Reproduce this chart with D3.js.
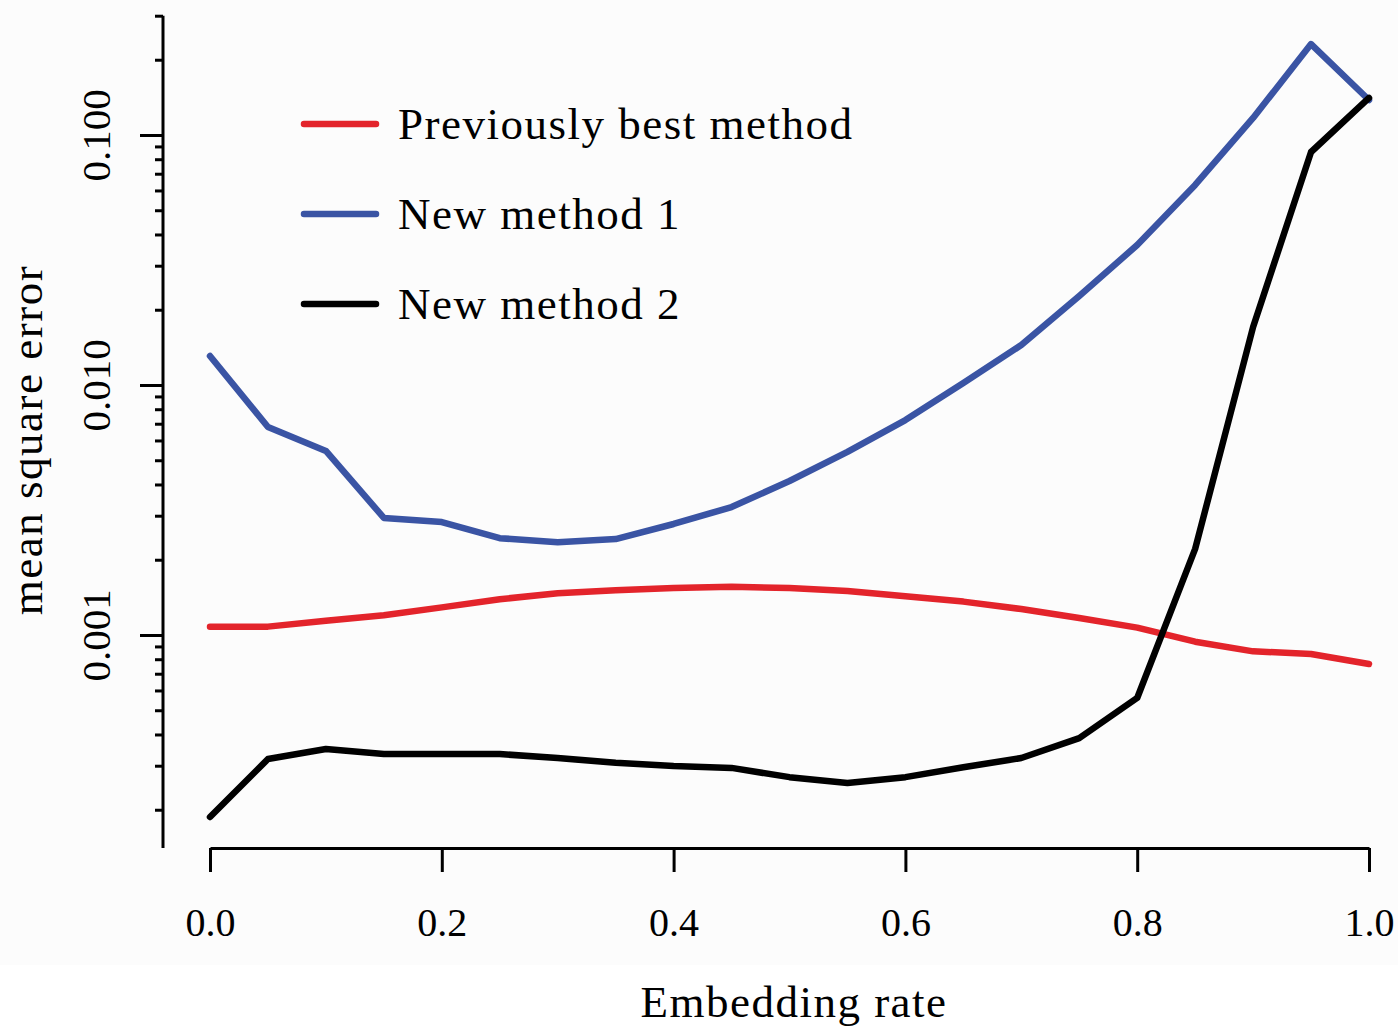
<!DOCTYPE html>
<html>
<head>
<meta charset="utf-8">
<style>
body { margin: 0; background: #fff; }
svg { display: block; font-family: 'Liberation Serif', 'DejaVu Serif', serif; }
</style>
</head>
<body>
<svg></svg>
<script src="https://d3js.org/d3.v7.min.js"></script>
<script>

// embedding rate, 0 to 1 in steps of 0.05
const rates = [0, 0.05, 0.1, 0.15, 0.2, 0.25, 0.3, 0.35, 0.4, 0.45, 0.5,
    0.55, 0.6, 0.65, 0.7, 0.75, 0.8, 0.85, 0.9, 0.95, 1.0];

const previousBest = [0.00108, 0.00108, 0.00114, 0.00120, 0.00129, 0.00139, 0.00147,
    0.00151, 0.00154, 0.00156, 0.00154, 0.00150, 0.00143, 0.00136, 0.00127,
    0.00117, 0.00107, 0.00094, 0.00086, 0.00084, 0.000766];

const newMethod1 = [0.01306, 0.00679, 0.00545, 0.00294, 0.00283, 0.00244, 0.00235,
    0.00242, 0.00278, 0.00325, 0.00413, 0.00540, 0.00724, 0.01019, 0.01445,
    0.0227, 0.0363, 0.0631, 0.117, 0.231, 0.138];

const newMethod2 = [0.000187, 0.000319, 0.000350, 0.000334, 0.000334, 0.000334, 0.000322,
    0.000308, 0.000299, 0.000294, 0.000270, 0.000256, 0.000270, 0.000296, 0.000322,
    0.000387, 0.000560, 0.00221, 0.01706, 0.0855, 0.1406];

const seriesNames = ['Previously best method', 'New method 1', 'New method 2'];
const seriesColors = ['#e3242b', '#3a54a4', '#000000'];

const xTicks = [0, 0.2, 0.4, 0.6, 0.8, 1.0];
const yMajor = [0.001, 0.01, 0.1];
const yMajorLabels = ['0.001', '0.010', '0.100'];
const yMinor = [0.0002, 0.0003, 0.0004, 0.0005, 0.0006, 0.0007, 0.0008, 0.0009,
    0.002, 0.003, 0.004, 0.005, 0.006, 0.007, 0.008, 0.009,
    0.02, 0.03, 0.04, 0.05, 0.06, 0.07, 0.08, 0.09, 0.2, 0.3];

const fullWidth = 1398;
const fullHeight = 1030;

const svg = d3.select('svg')
    .attr('width', fullWidth)
    .attr('height', fullHeight);

svg.append('rect')
    .attr('width', fullWidth)
    .attr('height', 965)
    .attr('fill', '#fcfcfc');

const x = d3.scaleLinear()
    .domain([0, 1])
    .range([210, 1369]);

const y = d3.scaleLog()
    .domain([0.0001406, 0.3467])
    .range([848, 0]);

const yAxisX = 163;
const xAxisY = 848;

// y axis
const yAxisG = svg.append('g')
    .attr('transform', `translate(${yAxisX},0)`);

yAxisG.append('line')
    .attr('y1', y(0.3))
    .attr('y2', xAxisY)
    .attr('stroke', '#000')
    .attr('stroke-width', 3);

yAxisG.append('g')
    .call(d3.axisLeft(y).tickValues(yMinor).tickSize(8).tickFormat(''))
    .call(g => g.select('.domain').remove())
    .selectAll('line').attr('stroke-width', 3);

const yMajorG = yAxisG.append('g')
    .call(d3.axisLeft(y).tickValues(yMajor).tickSize(23).tickPadding(0)
        .tickFormat((d, i) => yMajorLabels[i]))
    .call(g => g.select('.domain').remove());

yMajorG.selectAll('line').attr('stroke-width', 3);
yMajorG.selectAll('text')
    .attr('transform', 'rotate(-90)')
    .attr('x', 0)
    .attr('y', -53)
    .attr('dy', 0)
    .attr('text-anchor', 'middle')
    .attr('font-size', 41)
    .attr('font-family', "'Liberation Serif', serif")
    .attr('fill', '#000');

// x axis
const xAxisG = svg.append('g')
    .attr('transform', `translate(0,${xAxisY})`)
    .call(d3.axisBottom(x).tickValues(xTicks).tickSize(24).tickSizeOuter(0)
        .tickPadding(36).tickFormat(d3.format('.1f')));

xAxisG.select('.domain').attr('stroke-width', 3);
xAxisG.selectAll('line').attr('stroke-width', 3);
xAxisG.selectAll('text')
    .attr('font-size', 40)
    .attr('font-family', "'Liberation Serif', serif")
    .attr('fill', '#000');

// axis titles
svg.append('text')
    .attr('x', 794)
    .attr('y', 1017)
    .attr('text-anchor', 'middle')
    .attr('font-size', 45)
    .attr('letter-spacing', 1.5)
    .text('Embedding rate');

svg.append('text')
    .attr('transform', 'translate(42,440) rotate(-90)')
    .attr('text-anchor', 'middle')
    .attr('font-size', 45)
    .attr('letter-spacing', 1.5)
    .text('mean square error');

// lines
const series = [previousBest, newMethod1, newMethod2];

const line = d3.line()
    .x((d, i) => x(rates[i]))
    .y(d => y(d));

series.forEach((values, i) => {
    svg.append('path')
        .datum(values)
        .attr('d', line)
        .attr('fill', 'none')
        .attr('stroke', seriesColors[i])
        .attr('stroke-width', 6.5)
        .attr('stroke-linejoin', 'round')
        .attr('stroke-linecap', 'round');
});

// legend
const legend = svg.append('g');
seriesNames.forEach((name, i) => {
    const ly = 124 + i * 90;
    legend.append('line')
        .attr('x1', 304)
        .attr('x2', 376)
        .attr('y1', ly)
        .attr('y2', ly)
        .attr('stroke', seriesColors[i])
        .attr('stroke-width', 6.5)
        .attr('stroke-linecap', 'round');
    legend.append('text')
        .attr('x', 398)
        .attr('y', ly + 15)
        .attr('font-size', 45)
        .attr('letter-spacing', 1.5)
        .text(name);
});

</script>
</body>
</html>
